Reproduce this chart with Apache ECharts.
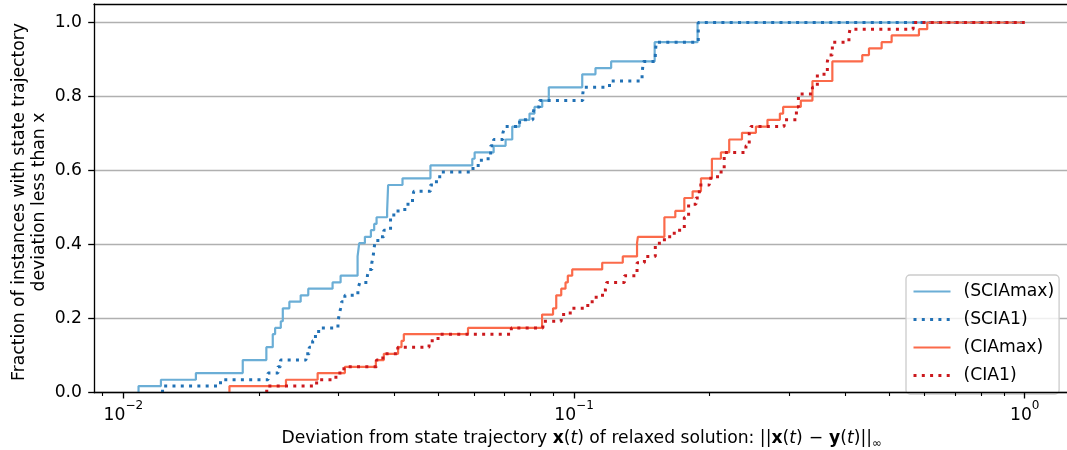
<!DOCTYPE html>
<html>
<head>
<meta charset="utf-8">
<script src="https://cdn.jsdelivr.net/npm/echarts@6/dist/echarts.min.js"></script>
<style>
  html, body { margin: 0; padding: 0; background: #ffffff; }
  #chart { width: 1067px; height: 450px; }
</style>
</head>
<body>
<div id="chart"></div>
<script>
// Empirical distribution of the state-trajectory deviation per method.
// Each X array holds the deviation at which the curve steps up, Y the fraction reached there.
const seriesNames = ['(SCIAmax)', '(SCIA1)', '(CIAmax)', '(CIA1)'];

const sciaMaxX = [0.01081, 0.01081, 0.01212, 0.01449, 0.01841, 0.02077, 0.02146, 0.02172, 0.02236, 0.02259,
  0.02336, 0.02475, 0.02573, 0.02913, 0.03035, 0.03310, 0.03338, 0.03436, 0.03543, 0.03603,
  0.03647, 0.03849, 0.03869, 0.04164, 0.04803, 0.05948, 0.06019, 0.06633, 0.07051, 0.07295,
  0.07572, 0.07967, 0.08173, 0.08502, 0.08792, 0.1043, 0.1116, 0.1209, 0.1510, 0.1880, 1.0];
const sciaMaxY = [0, 0.018, 0.035, 0.053, 0.088, 0.123, 0.158, 0.175, 0.193, 0.228,
  0.246, 0.263, 0.281, 0.298, 0.316, 0.368, 0.404, 0.421, 0.439, 0.456,
  0.474, 0.491, 0.561, 0.579, 0.614, 0.632, 0.649, 0.667, 0.684, 0.719,
  0.737, 0.754, 0.772, 0.789, 0.825, 0.860, 0.877, 0.895, 0.947, 1.0, 1.0];

const scia1X = [0.01222, 0.01222, 0.01643, 0.02095, 0.02204, 0.02233, 0.02543, 0.02586, 0.02631, 0.02669,
  0.02713, 0.02994, 0.03014, 0.03035, 0.03051, 0.03102, 0.03315, 0.03349, 0.03480, 0.03506,
  0.03560, 0.03584, 0.03597, 0.03615, 0.03671, 0.03785, 0.03917, 0.03983, 0.04213, 0.04382,
  0.04411, 0.04803, 0.04952, 0.05036, 0.05969, 0.06230, 0.06533, 0.06633, 0.06956, 0.07016,
  0.07574, 0.08106, 0.08176, 0.08387, 0.1046, 0.1050, 0.1199, 0.1416, 0.1420, 0.1426,
  0.1515, 0.1518, 0.1522, 0.1887, 1.0];
const scia1Y = [0, 0.018, 0.035, 0.053, 0.070, 0.088, 0.105, 0.123, 0.140, 0.158,
  0.175, 0.193, 0.211, 0.228, 0.246, 0.263, 0.281, 0.298, 0.316, 0.333,
  0.351, 0.368, 0.386, 0.404, 0.421, 0.439, 0.474, 0.491, 0.509, 0.526,
  0.544, 0.561, 0.579, 0.596, 0.614, 0.632, 0.667, 0.684, 0.702, 0.719,
  0.737, 0.754, 0.772, 0.789, 0.807, 0.825, 0.842, 0.860, 0.877, 0.895,
  0.912, 0.930, 0.947, 1.0, 1.0];

const ciaMaxX = [0.01720, 0.01720, 0.02296, 0.02699, 0.03102, 0.03634, 0.03785, 0.04071, 0.04143, 0.04192,
  0.05819, 0.08495, 0.08985, 0.09133, 0.09369, 0.09576, 0.09689, 0.09909, 0.1155, 0.1283,
  0.1380, 0.1386, 0.1587, 0.1678, 0.1757, 0.1833, 0.1913, 0.2023, 0.2118, 0.2210,
  0.2359, 0.2533, 0.2687, 0.2863, 0.2911, 0.3186, 0.3381, 0.3743, 0.4361, 0.4513,
  0.4815, 0.5067, 0.5826, 0.6078, 1.0];
const ciaMaxY = [0, 0.018, 0.035, 0.053, 0.070, 0.088, 0.105, 0.123, 0.140, 0.158,
  0.175, 0.211, 0.228, 0.263, 0.281, 0.298, 0.316, 0.333, 0.351, 0.368,
  0.404, 0.421, 0.474, 0.491, 0.526, 0.544, 0.579, 0.632, 0.649, 0.684,
  0.702, 0.719, 0.737, 0.754, 0.772, 0.789, 0.842, 0.895, 0.912, 0.930,
  0.947, 0.965, 0.982, 1.0, 1.0];

const cia1X = [0.02081, 0.02081, 0.02685, 0.02963, 0.03087, 0.03647, 0.03766, 0.04065, 0.04769, 0.04993,
  0.07260, 0.08530, 0.09369, 0.09809, 0.1073, 0.1120, 0.1174, 0.1182, 0.1294, 0.1380,
  0.1433, 0.1515, 0.1587, 0.1669, 0.1757, 0.1796, 0.1865, 0.1897, 0.1996, 0.2082,
  0.2154, 0.2407, 0.2448, 0.2469, 0.2926, 0.3115, 0.3147, 0.3381, 0.3467, 0.3649,
  0.3680, 0.3743, 0.4074, 0.4095, 0.5656, 1.0];
const cia1Y = [0, 0.018, 0.035, 0.053, 0.070, 0.088, 0.105, 0.123, 0.140, 0.158,
  0.175, 0.193, 0.211, 0.228, 0.246, 0.263, 0.281, 0.298, 0.316, 0.351,
  0.368, 0.404, 0.421, 0.439, 0.474, 0.509, 0.526, 0.561, 0.579, 0.596,
  0.649, 0.667, 0.702, 0.719, 0.737, 0.772, 0.807, 0.825, 0.860, 0.895,
  0.912, 0.947, 0.965, 0.982, 1.0, 1.0];

const xMajorTicks = [0.01, 0.1, 1];
const xMinorTicks = [0.009, 0.02, 0.03, 0.04, 0.05, 0.06, 0.07, 0.08, 0.09,
  0.2, 0.3, 0.4, 0.5, 0.6, 0.7, 0.8, 0.9];
const yTicks = [0, 0.2, 0.4, 0.6, 0.8, 1.0];
const yTitle = 'Fraction of instances with state trajectory\ndeviation less than x';

const FONT = 'DejaVu Sans';
const FS = 17.2;
const X_MIN = 0.00861, X_MAX = 1.254;
const colors = ['#6baed6', '#2171b5', '#fb6a4a', '#cb181d'];

function pairs(xs, ys) { return xs.map((x, i) => [x, ys[i]]); }

function stepSeries(name, xs, ys, color, dotted) {
  return {
    name: name,
    type: 'line',
    step: 'end',
    data: pairs(xs, ys),
    xAxisIndex: 0,
    yAxisIndex: 0,
    symbol: 'none',
    showSymbol: false,
    clip: true,
    lineStyle: dotted
      ? { color: color, width: 3, type: [3, 5.3], cap: 'butt' }
      : { color: color, width: 2.2, type: 'solid' },
    itemStyle: { color: color },
    emphasis: { disabled: true }
  };
}

const superscript = {
  b: { fontFamily: FONT, fontSize: FS, color: '#000', lineHeight: 24, verticalAlign: 'bottom' },
  e: { fontFamily: FONT, fontSize: 12, color: '#000', lineHeight: 12, verticalAlign: 'top' }
};

const xTitle = '{n|Deviation from state trajectory }{b|x}{n|(}{i|t}{n|) of relaxed solution: ||}' +
  '{b|x}{n|(}{i|t}{n|)}{m|−}{b|y}{n|(}{i|t}{n|)||}{s|∞}';

const chart = echarts.init(document.getElementById('chart'), null, { renderer: 'canvas' });

chart.setOption({
  animation: false,
  backgroundColor: '#ffffff',
  textStyle: { fontFamily: FONT },
  grid: { left: 94, top: 4, width: 975, height: 388.7, containLabel: false, outerBoundsMode: 'none' },
  // rotated two-line title of the value axis
  graphic: [{
    type: 'text',
    x: 29.5,
    y: 202,
    rotation: Math.PI / 2,
    silent: true,
    style: {
      text: yTitle,
      fontFamily: FONT,
      fontSize: FS,
      lineHeight: 20,
      fill: '#000',
      align: 'center',
      verticalAlign: 'middle'
    }
  }],
  legend: {
    data: seriesNames,
    orient: 'vertical',
    left: 906,
    top: 275,
    padding: [8, 5, 10, 6],
    itemWidth: 37,
    itemHeight: 14,
    itemGap: 11,
    backgroundColor: 'rgba(255,255,255,0.8)',
    borderColor: '#cccccc',
    borderWidth: 1.33,
    borderRadius: 4,
    lineStyle: { width: 'inherit' },
    itemStyle: { opacity: 0, borderWidth: 0 },
    textStyle: { fontFamily: FONT, fontSize: FS, color: '#000', lineHeight: 14, padding: [0, 0, 0, 8] },
    selectedMode: false
  },
  xAxis: [
    {
      type: 'log', logBase: 10, min: X_MIN, max: X_MAX, position: 'bottom', z: 4,
      axisLine: { show: true, onZero: false, lineStyle: { color: '#000', width: 1.33 } },
      axisTick: { show: true, customValues: xMajorTicks, length: 5.8, lineStyle: { color: '#000', width: 1.33 } },
      axisLabel: {
        show: true, customValues: xMajorTicks, margin: 7,
        formatter: function (v) {
          const e = Math.round(Math.log10(v));
          return '{b|10}{e|' + (e < 0 ? '−' : '') + Math.abs(e) + '}';
        },
        rich: superscript
      },
      splitLine: { show: false },
      name: xTitle,
      nameLocation: 'middle',
      nameGap: 37,
      nameTextStyle: {
        rich: {
          n: { fontFamily: FONT, fontSize: FS, color: '#000', lineHeight: 20, verticalAlign: 'top' },
          m: { fontFamily: FONT, fontSize: FS, color: '#000', lineHeight: 20, verticalAlign: 'top', padding: [0, 6, 0, 6] },
          b: { fontFamily: FONT, fontSize: FS, fontWeight: 'bold', color: '#000', lineHeight: 20, verticalAlign: 'top' },
          i: { fontFamily: FONT, fontSize: FS, fontStyle: 'italic', color: '#000', lineHeight: 20, verticalAlign: 'top' },
          s: { fontFamily: FONT, fontSize: 11.5, color: '#000', lineHeight: 12, verticalAlign: 'bottom' }
        }
      }
    },
    {
      type: 'log', logBase: 10, min: X_MIN, max: X_MAX, position: 'bottom', z: 4,
      axisLine: { show: false },
      axisTick: { show: true, customValues: xMinorTicks, length: 3.3, lineStyle: { color: '#000', width: 1.1 } },
      axisLabel: { show: false },
      splitLine: { show: false }
    },
    {
      type: 'log', logBase: 10, min: X_MIN, max: X_MAX, position: 'top', z: 4,
      axisLine: { show: true, onZero: false, lineStyle: { color: '#000', width: 1.33 } },
      axisTick: { show: false },
      axisLabel: { show: false },
      splitLine: { show: false }
    }
  ],
  yAxis: [
    {
      type: 'value', min: 0, max: 1.05, interval: 0.2, position: 'left', z: 0,
      axisLine: { show: true, onZero: false, lineStyle: { color: '#000', width: 1.33 } },
      axisTick: { show: true, customValues: yTicks, length: 5.8, lineStyle: { color: '#000', width: 1.33 } },
      axisLabel: {
        show: true, customValues: yTicks, margin: 12,
        fontFamily: FONT, fontSize: FS, color: '#000',
        formatter: function (v) { return v.toFixed(1); }
      },
      splitLine: { show: true, lineStyle: { color: '#b0b0b0', width: 1.33 } }
    }
  ],
  series: [
    stepSeries(seriesNames[0], sciaMaxX, sciaMaxY, colors[0], false),
    stepSeries(seriesNames[1], scia1X, scia1Y, colors[1], true),
    stepSeries(seriesNames[2], ciaMaxX, ciaMaxY, colors[2], false),
    stepSeries(seriesNames[3], cia1X, cia1Y, colors[3], true)
  ]
});
</script>
</body>
</html>
